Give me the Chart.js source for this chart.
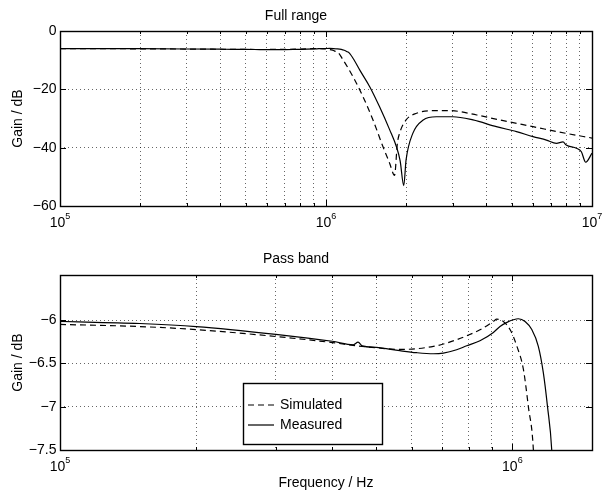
<!DOCTYPE html>
<html>
<head>
<meta charset="utf-8">
<script src="https://cdn.jsdelivr.net/npm/chart.js@4.4.1/dist/chart.umd.min.js"></script>
<style>
  html, body { margin: 0; padding: 0; background: #fff; }
  #wrap { position: relative; width: 609px; height: 495px; }
  .box { position: absolute; left: 0; width: 609px; }
  #top { top: 0; height: 245px; }
  #bottom { top: 245px; height: 250px; }
</style>
</head>
<body>
<div id="wrap">
  <div class="box" id="top"><canvas id="fullChart"></canvas></div>
  <div class="box" id="bottom"><canvas id="passChart"></canvas></div>
</div>
<script>
// Simulated response (dashed)
const simFreq = [1e5, 1.5e5, 2e5, 3e5, 4e5, 4.56e5, 5e5, 5.64e5, 6.14e5, 6.69e5,
  7.04e5, 7.53e5, 7.93e5, 8.48e5, 9.08e5, 9.24e5, 9.55e5, 9.89e5, 1.023e6, 1.058e6,
  1.085e6, 1.113e6, 1.159e6, 1.264e6, 1.377e6, 1.502e6, 1.638e6, 1.736e6, 1.81e6, 1.855e6,
  1.89e6, 2.0e6, 2.19e6, 2.525e6, 2.92e6, 3.69e6, 4.5e6, 6.0e6, 8.0e6, 1e7];
const simGain = [-6.05, -6.075, -6.11, -6.19, -6.26, -6.30, -6.32, -6.339, -6.331, -6.304,
  -6.277, -6.227, -6.181, -6.112, -6.016, -5.99, -6.016, -6.112, -6.30, -6.57,
  -7.0, -7.5, -9.9, -15.7, -22.5, -30.5, -39.7, -45.4, -49.5, -38.5,
  -35.1, -30.5, -28.2, -27.3, -27.3, -28.8, -30.5, -32.8, -35.1, -36.7];

// Measured response (solid)
const measFreq = [1e5, 1.5e5, 2e5, 3e5, 4e5, 4.45e5, 4.56e5, 4.66e5, 5e5, 5.64e5,
  6.14e5, 6.69e5, 7.04e5, 7.53e5, 7.93e5, 8.48e5, 9.08e5, 9.39e5, 9.73e5, 1.005e6,
  1.031e6, 1.067e6, 1.104e6, 1.141e6, 1.171e6, 1.196e6, 1.222e6, 1.28e6, 1.34e6, 1.46e6,
  1.59e6, 1.736e6, 1.84e6, 1.9e6, 1.96e6, 2.0e6, 2.12e6, 2.32e6, 2.6e6, 3.0e6,
  3.57e6, 4.37e6, 5.2e6, 6.0e6, 6.74e6, 7.35e6, 7.78e6, 8.0e6, 8.74e6, 9.12e6,
  9.47e6, 1e7];
const measGain = [-6.016, -6.04, -6.075, -6.165, -6.245, -6.285, -6.255, -6.298, -6.316, -6.354,
  -6.377, -6.389, -6.381, -6.343, -6.297, -6.239, -6.143, -6.074, -6.027, -5.997,
  -5.985, -6.016, -6.11, -6.30, -6.61, -7.0, -7.5, -10.2, -13.4, -19.1,
  -26.0, -33.9, -39.7, -44.5, -53.0, -44.2, -35.1, -30.5, -29.4, -29.4,
  -30.5, -32.8, -34.5, -36.2, -37.4, -38.5, -38.0, -39.1, -40.2, -41.4,
  -45.0, -41.9];

// Axis ticks and labels (decade labels are 10 with the exponent raised)
const fullMajor = [1e5, 1e6, 1e7];
const fullMajorExp = ['5', '6', '7'];
const fullYTicks = [-60, -40, -20, 0];
const passMajor = [1e5, 1e6];
const passMajorExp = ['5', '6'];
const passYTicks = [-7.5, -7, -6.5, -6];

const FAMILY = "'Liberation Sans', Arial, Helvetica, sans-serif";
const FONT = { family: FAMILY, size: 14 };
Chart.defaults.font.family = FAMILY;
Chart.defaults.color = '#000';

// all 1..9 x 10^n positions for the dotted grid
function logGrid(min, max) {
  const out = [];
  for (let n = Math.round(Math.log10(min)); Math.pow(10, n) <= max; n++) {
    for (let m = 1; m <= 9; m++) {
      const v = m * Math.pow(10, n);
      if (v >= min && v <= max) out.push(v);
    }
  }
  return out;
}

function minusLabel(v) {
  return v === 0 ? '0' : (v < 0 ? '\u2212' : '') + Math.abs(v);
}

function lineSet(label, xs, ys, dash) {
  return {
    label: label,
    data: xs.map((x, i) => ({ x: x, y: ys[i] })),
    borderColor: '#000',
    borderWidth: 1.2,
    borderDash: dash,
    pointRadius: 0,
    fill: false,
    cubicInterpolationMode: 'monotone'
  };
}

// box around the plot, inward tick marks and the 10^n labels, matlab style
const framePlugin = {
  id: 'frame',
  afterDatasetsDraw(chart, args, opts) {
    const { ctx, chartArea: a, scales } = chart;
    const l = Math.round(a.left), r = Math.round(a.right);
    const t = Math.round(a.top), b = Math.round(a.bottom);
    ctx.save();
    ctx.strokeStyle = '#000';
    ctx.lineWidth = 1;
    ctx.beginPath();
    scales.x.ticks.forEach((tk) => {
      const px = Math.round(scales.x.getPixelForValue(tk.value)) + 0.5;
      const len = opts.major.includes(tk.value) ? 6 : 3;
      ctx.moveTo(px, b); ctx.lineTo(px, b - len);
      ctx.moveTo(px, t); ctx.lineTo(px, t + len);
    });
    scales.y.ticks.forEach((tk) => {
      const py = Math.round(scales.y.getPixelForValue(tk.value)) + 0.5;
      ctx.moveTo(l, py); ctx.lineTo(l + 6, py);
      ctx.moveTo(r, py); ctx.lineTo(r - 6, py);
    });
    ctx.stroke();
    ctx.lineWidth = 1.4;
    ctx.strokeRect(l + 0.5, t + 0.5, r - l, b - t);

    // decade labels
    ctx.fillStyle = '#000';
    ctx.textBaseline = 'alphabetic';
    ctx.textAlign = 'left';
    opts.major.forEach((v, i) => {
      const px = scales.x.getPixelForValue(v);
      ctx.font = '14px ' + FAMILY;
      const wBase = ctx.measureText('10').width;
      ctx.font = '9px ' + FAMILY;
      const wExp = ctx.measureText(opts.exps[i]).width;
      const x0 = px - (wBase + wExp) / 2;
      const base = b + 20.5;
      ctx.font = '14px ' + FAMILY;
      ctx.fillText('10', x0, base);
      ctx.font = '9px ' + FAMILY;
      ctx.fillText(opts.exps[i], x0 + wBase, base - 8);
    });
    ctx.restore();
  }
};

// legend box inside the pass band plot
const boxLegend = {
  id: 'boxLegend',
  afterDraw(chart) {
    const ctx = chart.ctx;
    const x0 = 243, y0 = 138, w = 139, h = 61;
    ctx.save();
    ctx.fillStyle = '#fff';
    ctx.fillRect(x0, y0, w, h);
    ctx.strokeStyle = '#000';
    ctx.lineWidth = 1.4;
    ctx.strokeRect(x0 + 0.5, y0 + 0.5, w, h);
    ctx.font = FONT.size + 'px ' + FAMILY;
    ctx.textBaseline = 'middle';
    ctx.fillStyle = '#000';
    chart.data.datasets.forEach((ds, i) => {
      const y = y0 + 22 + i * 20;
      ctx.beginPath();
      ctx.lineWidth = ds.borderWidth;
      ctx.setLineDash(ds.borderDash);
      ctx.moveTo(x0 + 5, y);
      ctx.lineTo(x0 + 31, y);
      ctx.stroke();
      ctx.setLineDash([]);
      ctx.fillText(ds.label, x0 + 37, y);
    });
    ctx.restore();
  }
};

function makeChart(canvasId, c) {
  return new Chart(document.getElementById(canvasId), {
    type: 'line',
    data: {
      datasets: [
        lineSet('Simulated', simFreq, simGain, [6, 4]),
        lineSet('Measured', measFreq, measGain, [])
      ]
    },
    options: {
      responsive: true,
      maintainAspectRatio: false,
      animation: false,
      devicePixelRatio: 1,
      layout: { padding: { left: 0, right: 17, top: 0, bottom: 0 } },
      plugins: {
        legend: { display: false },
        tooltip: { enabled: false },
        frame: { major: c.major, exps: c.exps },
        title: {
          display: true,
          text: c.title,
          color: '#000',
          font: { size: 14, weight: 'normal' },
          padding: c.titlePad
        }
      },
      scales: {
        x: {
          type: 'logarithmic',
          min: 1e5,
          max: c.xMax,
          afterBuildTicks: (s) => {
            s.ticks = logGrid(1e5, c.xMax).map((v) => ({ value: v }));
          },
          afterFit: (s) => {
            s.height = c.xHeight;
            s.paddingLeft = 0;
            s.paddingRight = 0;
          },
          ticks: { display: false, autoSkip: false, maxRotation: 0 },
          grid: { color: 'rgba(0,0,0,0.6)', lineWidth: 1, drawTicks: false },
          border: { display: false, dash: [1, 3] },
          title: {
            display: !!c.xTitle,
            text: c.xTitle || '',
            font: FONT,
            padding: { top: 0, bottom: 3.6 }
          }
        },
        y: {
          min: c.yMin,
          max: c.yMax,
          afterBuildTicks: (s) => {
            s.ticks = c.yTicks.map((v) => ({ value: v }));
          },
          afterFit: (s) => {
            s.width = 60;
            s.paddingTop = 0;
            s.paddingBottom = 0;
          },
          ticks: { padding: 3.5, font: FONT, callback: minusLabel },
          grid: { color: 'rgba(0,0,0,0.6)', lineWidth: 1, drawTicks: false },
          border: { display: false, dash: [1, 3] },
          title: {
            display: true,
            text: 'Gain / dB',
            font: FONT,
            padding: { top: 10, bottom: 0 }
          }
        }
      }
    },
    plugins: c.plugins
  });
}

makeChart('fullChart', {
  title: 'Full range',
  titlePad: { top: 7.5, bottom: 6.7 },
  xMax: 1e7,
  xHeight: 39,
  major: fullMajor,
  exps: fullMajorExp,
  yMin: -60,
  yMax: 0,
  yTicks: fullYTicks,
  plugins: [framePlugin]
});

makeChart('passChart', {
  title: 'Pass band',
  titlePad: { top: 6, bottom: 7.2 },
  xMax: 1.5e6,
  xHeight: 45,
  xTitle: 'Frequency / Hz',
  major: passMajor,
  exps: passMajorExp,
  yMin: -7.5,
  yMax: -5.48,
  yTicks: passYTicks,
  plugins: [framePlugin, boxLegend]
});
</script>
</body>
</html>
